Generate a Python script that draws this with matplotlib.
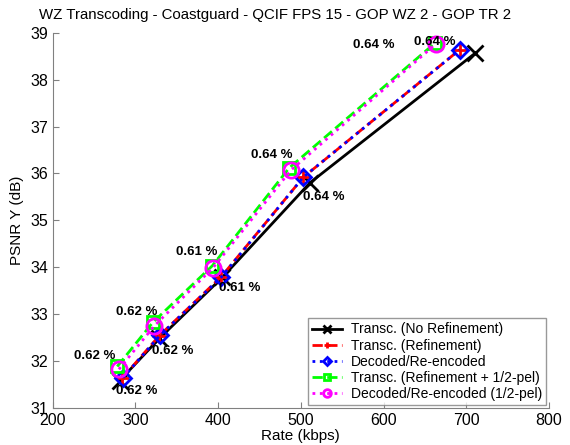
import numpy as np
import matplotlib
matplotlib.use("Agg")
import matplotlib.pyplot as plt

plt.rcParams["font.family"] = ["Liberation Sans", "DejaVu Sans"]

# Rate (kbps) / PSNR Y (dB) per curve
rate_norefine = [281, 329, 405, 511, 711]
psnr_norefine = [31.58, 32.48, 33.78, 35.80, 38.57]

rate_refine = [284, 329, 404, 503, 692]
psnr_refine = [31.63, 32.54, 33.80, 35.92, 38.64]

rate_decoded = [285, 330, 404, 503, 692]
psnr_decoded = [31.64, 32.55, 33.79, 35.92, 38.64]

rate_halfpel = [278, 321, 393, 486, 662]
psnr_halfpel = [31.88, 32.82, 34.03, 36.12, 38.78]

rate_dec_half = [280, 323, 394, 488, 663]
psnr_dec_half = [31.82, 32.75, 33.99, 36.07, 38.76]

# percentage labels (text, x, y)
label_text = ["0.62 %", "0.62 %", "0.62 %", "0.62 %", "0.61 %", "0.61 %",
              "0.64 %", "0.64 %", "0.64 %", "0.64 %"]
label_x = [251, 301, 302, 345, 374, 426, 465, 528, 588, 662]
label_y = [32.10, 31.35, 33.04, 32.21, 34.32, 33.55, 36.39, 35.50, 38.74, 38.81]

fig = plt.figure(figsize=(5.7, 4.45), dpi=100)
ax = fig.add_axes([0.0925, 0.0838, 0.8705, 0.8422])

ax.plot(rate_norefine, psnr_norefine, color="black", linestyle="-", linewidth=2,
        marker="x", markersize=12, markeredgewidth=2, label="Transc. (No Refinement)")
ax.plot(rate_refine, psnr_refine, color="red", linestyle="--", linewidth=2,
        marker="+", markersize=10, markeredgewidth=2, label="Transc. (Refinement)")
ax.plot(rate_decoded, psnr_decoded, color="blue", linestyle=":", linewidth=2,
        marker="D", markersize=8, markerfacecolor="none", markeredgewidth=2,
        label="Decoded/Re-encoded")
ax.plot(rate_halfpel, psnr_halfpel, color="#00ff00", linestyle="--", linewidth=2,
        marker="s", markersize=9, markerfacecolor="none", markeredgewidth=2,
        label="Transc. (Refinement + 1/2-pel)")
ax.plot(rate_dec_half, psnr_dec_half, color="magenta", linestyle=":", linewidth=2,
        marker="o", markersize=11, markerfacecolor="none", markeredgewidth=2,
        label="Decoded/Re-encoded (1/2-pel)")

for t, x, y in zip(label_text, label_x, label_y):
    ax.text(x, y, t, fontsize=9.5, fontweight="bold", ha="center", va="center")

ax.set_xlim(200, 800)
ax.set_ylim(31, 39)
ax.set_xticks(np.arange(200, 801, 100))
ax.set_yticks(np.arange(31, 40, 1))
ax.set_xlabel("Rate (kbps)", fontsize=11, labelpad=1)
ax.set_ylabel("PSNR Y (dB)", fontsize=11, labelpad=4)
fig.text(275 / 570, 1 - 15 / 445,
         "WZ Transcoding - Coastguard - QCIF FPS 15 - GOP WZ 2 - GOP TR 2",
         fontsize=10.8, ha="center", va="center")

for s in ["top", "right"]:
    ax.spines[s].set_visible(False)
for s in ["left", "bottom"]:
    ax.spines[s].set_color("#808080")
ax.tick_params(direction="in", length=4, color="#808080", labelsize=11.5)

leg = ax.legend(loc="lower right", fontsize=10, frameon=True, fancybox=False,
                handlelength=2.2, borderpad=0.3, labelspacing=0.15,
                handletextpad=0.6, markerscale=0.5, borderaxespad=0.2)
leg.get_frame().set_edgecolor("#808080")
leg.get_frame().set_linewidth(1)

fig.savefig("out.png", dpi=100)
